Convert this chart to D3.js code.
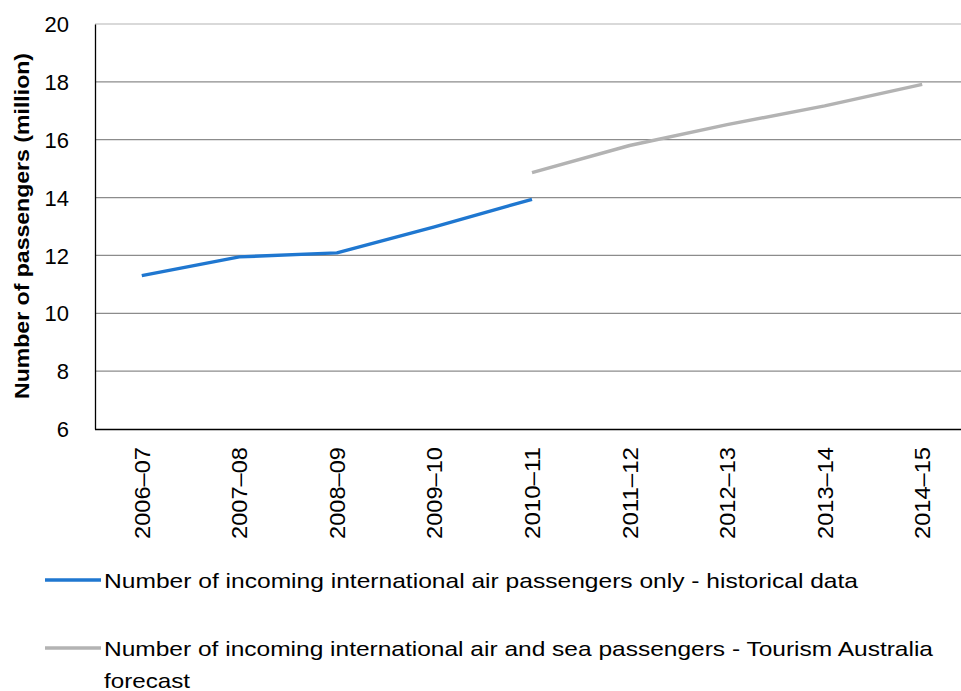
<!DOCTYPE html>
<html>
<head>
<meta charset="utf-8">
<script src="https://cdn.jsdelivr.net/npm/d3@7"></script>
<style>
  html, body { margin: 0; padding: 0; background: #fff; }
  svg text { font-family: "Liberation Sans", Arial, sans-serif; fill: #000; }
</style>
</head>
<body>
<svg id="chart" width="961" height="691"></svg>
<script>
// Financial years on the category axis
const years = ["2006–07", "2007–08", "2008–09", "2009–10", "2010–11",
               "2011–12", "2012–13", "2013–14", "2014–15"];

// Incoming international air passengers (million), historical
const historical = [11.30, 11.95, 12.09, 12.99, 13.94, null, null, null, null];

// Air and sea passengers (million), Tourism Australia forecast
const forecast = [null, null, null, null, 14.86, 15.80, 16.52, 17.17, 17.91];

const yTicks = [6, 8, 10, 12, 14, 16, 18, 20];

const legendLabels = [
  ["Number of incoming international air passengers only - historical data"],
  ["Number of incoming international air and sea passengers - Tourism Australia", "forecast"]
];

const svg = d3.select("#chart");
const plotLeft = 95, plotTop = 24, plotBottom = 429, plotRight = 971;

const x = d3.scaleBand().domain(years).range([plotLeft - 2, plotRight]);
const y = d3.scaleLinear().domain([6, 20]).range([plotBottom, plotTop]);

// Horizontal gridlines
svg.append("g")
  .selectAll("line")
  .data(yTicks.filter(t => t > 6))
  .join("line")
  .attr("x1", plotLeft).attr("x2", 961)
  .attr("y1", d => y(d)).attr("y2", d => y(d))
  .attr("stroke", d => d === 20 ? "#b4b4b4" : "#8c8c8c")
  .attr("stroke-width", 1.2);

// Y axis
const yAxis = svg.append("g")
  .attr("transform", `translate(${plotLeft},0)`)
  .call(d3.axisLeft(y).tickValues(yTicks).tickSize(0).tickPadding(26));
yAxis.select(".domain").attr("stroke", "#000").attr("stroke-width", 1.3);
yAxis.selectAll("text").style("font-size", "22px").attr("dy", "0.35em");

// X axis
const xAxis = svg.append("g")
  .attr("transform", `translate(0,${plotBottom})`)
  .call(d3.axisBottom(x).tickSize(0).tickPadding(0));
xAxis.select(".domain").attr("stroke", "#000").attr("stroke-width", 1.3)
  .attr("d", `M${plotLeft},0.5H961`);
xAxis.selectAll("text")
  .style("font-size", "22px")
  .attr("text-anchor", "end")
  .attr("dy", null)
  .attr("textLength", 92)
  .attr("lengthAdjust", "spacingAndGlyphs")
  .attr("transform", "translate(8,18) rotate(-90)");

// Y axis title
svg.append("text")
  .attr("transform", `translate(29,226) rotate(-90)`)
  .attr("text-anchor", "middle")
  .style("font-size", "21px")
  .style("font-weight", "bold")
  .attr("textLength", 346)
  .attr("lengthAdjust", "spacingAndGlyphs")
  .text("Number of passengers (million)");

const line = d3.line()
  .defined(d => d != null)
  .x((d, i) => x(years[i]) + x.bandwidth() / 2)
  .y(d => y(d));

const colors = ["#1f77d0", "#b3b3b3"];

[historical, forecast].forEach((series, k) => {
  svg.append("path")
    .datum(series)
    .attr("fill", "none")
    .attr("stroke", colors[k])
    .attr("stroke-width", 3.4)
    .attr("stroke-linejoin", "round")
    .attr("d", line);
});

// Legend
const legendRows = [580, 648];
const legendWidths = [[754], [829, 86]];
legendLabels.forEach((lines, k) => {
  const g = svg.append("g");
  g.append("line")
    .attr("x1", 45).attr("x2", 101)
    .attr("y1", legendRows[k]).attr("y2", legendRows[k])
    .attr("stroke", colors[k]).attr("stroke-width", 3.4);
  lines.forEach((t, j) => {
    g.append("text")
      .attr("x", 104)
      .attr("y", legendRows[k] + 8 + j * 32)
      .style("font-size", "21px")
      .attr("textLength", legendWidths[k][j])
      .attr("lengthAdjust", "spacingAndGlyphs")
      .text(t);
  });
});
</script>
</body>
</html>
